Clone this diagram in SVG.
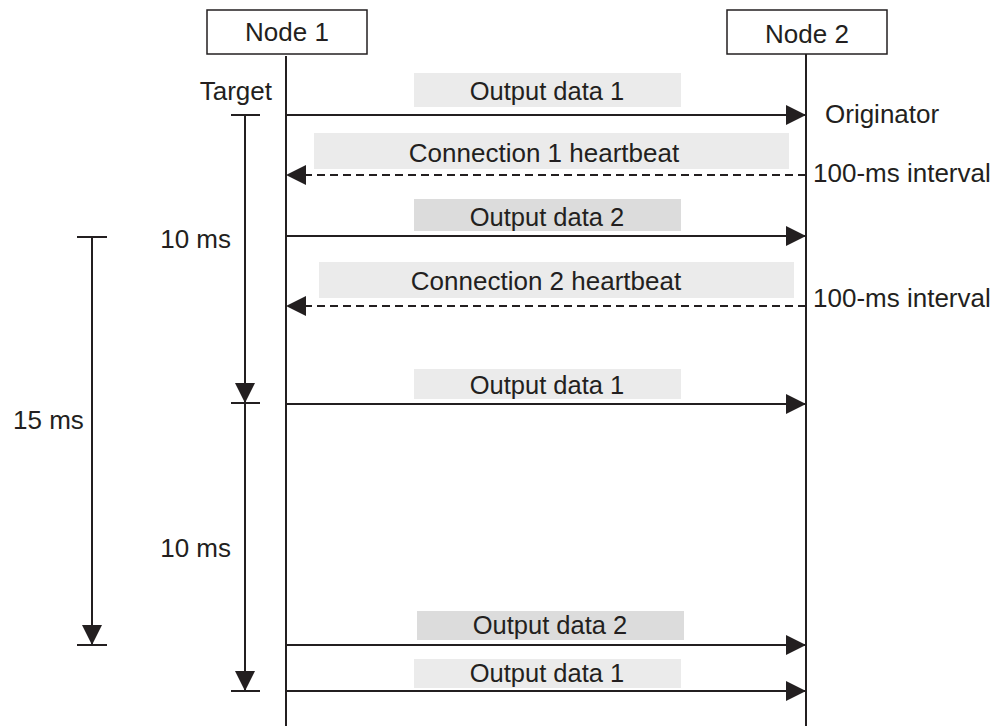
<svg xmlns="http://www.w3.org/2000/svg" width="1008" height="726" viewBox="0 0 1008 726">
<defs>
<style>
text{font-family:"Liberation Sans",Arial,sans-serif;font-size:26px;fill:#231f20}
.c{text-anchor:middle}
.e{text-anchor:end}
.o{font-size:25.5px}
.ln{stroke:#231f20;stroke-width:2;fill:none}
.d{stroke:#231f20;stroke-width:2;fill:none;stroke-dasharray:8 5}
.box{fill:#fff;stroke:#231f20;stroke-width:1.5}
.l1{fill:#ebebeb}
.l2{fill:#dcdcdc}
</style>
<marker id="ah" viewBox="0 0 20 20" refX="20" refY="10" markerWidth="20" markerHeight="20" markerUnits="userSpaceOnUse" orient="auto">
<path d="M0,0 L20,10 L0,20 Z" fill="#231f20"/>
</marker>
</defs>
<rect width="1008" height="726" fill="#fff"/>
<g id="node1">
<rect class="box" x="207" y="10" width="160" height="44"/>
<text class="c" x="287" y="41">Node 1</text>
<line class="ln" x1="286" y1="56" x2="286" y2="726"/>
<text class="e" x="272" y="100">Target</text>
</g>
<g id="node2">
<rect class="box" x="727" y="10" width="160" height="44"/>
<text class="c" x="807" y="43">Node 2</text>
<line class="ln" x1="806" y1="54" x2="806" y2="726"/>
<text x="825" y="123">Originator</text>
<text x="813" y="182">100-ms interval</text>
<text x="813" y="307">100-ms interval</text>
</g>
<g id="labels">
<rect class="l1" x="414" y="73" width="267" height="34"/>
<text class="c o" x="547" y="100">Output data 1</text>
<rect class="l1" x="314" y="133" width="475" height="36"/>
<text class="c" x="544" y="162">Connection 1 heartbeat</text>
<rect class="l2" x="414" y="199" width="267" height="32"/>
<text class="c o" x="547" y="226">Output data 2</text>
<rect class="l1" x="319" y="262" width="475" height="36"/>
<text class="c" x="546" y="290">Connection 2 heartbeat</text>
<rect class="l1" x="414" y="369" width="267" height="30"/>
<text class="c o" x="547" y="394">Output data 1</text>
<rect class="l2" x="417" y="611" width="267" height="29"/>
<text class="c o" x="550" y="634">Output data 2</text>
<rect class="l1" x="414" y="659" width="267" height="29"/>
<text class="c o" x="547" y="682">Output data 1</text>
</g>
<g id="connectors">
<line class="ln" x1="286" y1="115" x2="806" y2="115" marker-end="url(#ah)"/>
<line class="d" x1="806" y1="175" x2="286" y2="175" marker-end="url(#ah)"/>
<line class="ln" x1="286" y1="236" x2="806" y2="236" marker-end="url(#ah)"/>
<line class="d" x1="806" y1="306" x2="286" y2="306" marker-end="url(#ah)"/>
<line class="ln" x1="286" y1="404" x2="806" y2="404" marker-end="url(#ah)"/>
<line class="ln" x1="286" y1="645" x2="806" y2="645" marker-end="url(#ah)"/>
<line class="ln" x1="286" y1="691" x2="806" y2="691" marker-end="url(#ah)"/>
</g>
<g id="timing">
<line class="ln" x1="231" y1="115" x2="260" y2="115"/>
<line class="ln" x1="245" y1="115" x2="245" y2="403" marker-end="url(#ah)"/>
<line class="ln" x1="231" y1="403" x2="260" y2="403"/>
<line class="ln" x1="245" y1="403" x2="245" y2="691" marker-end="url(#ah)"/>
<line class="ln" x1="231" y1="691" x2="260" y2="691"/>
<text class="e" x="231" y="248">10 ms</text>
<text class="e" x="231" y="557">10 ms</text>
<line class="ln" x1="77" y1="237" x2="107" y2="237"/>
<line class="ln" x1="92" y1="237" x2="92" y2="645" marker-end="url(#ah)"/>
<line class="ln" x1="77" y1="645" x2="107" y2="645"/>
<text x="13" y="429">15 ms</text>
</g>
</svg>
